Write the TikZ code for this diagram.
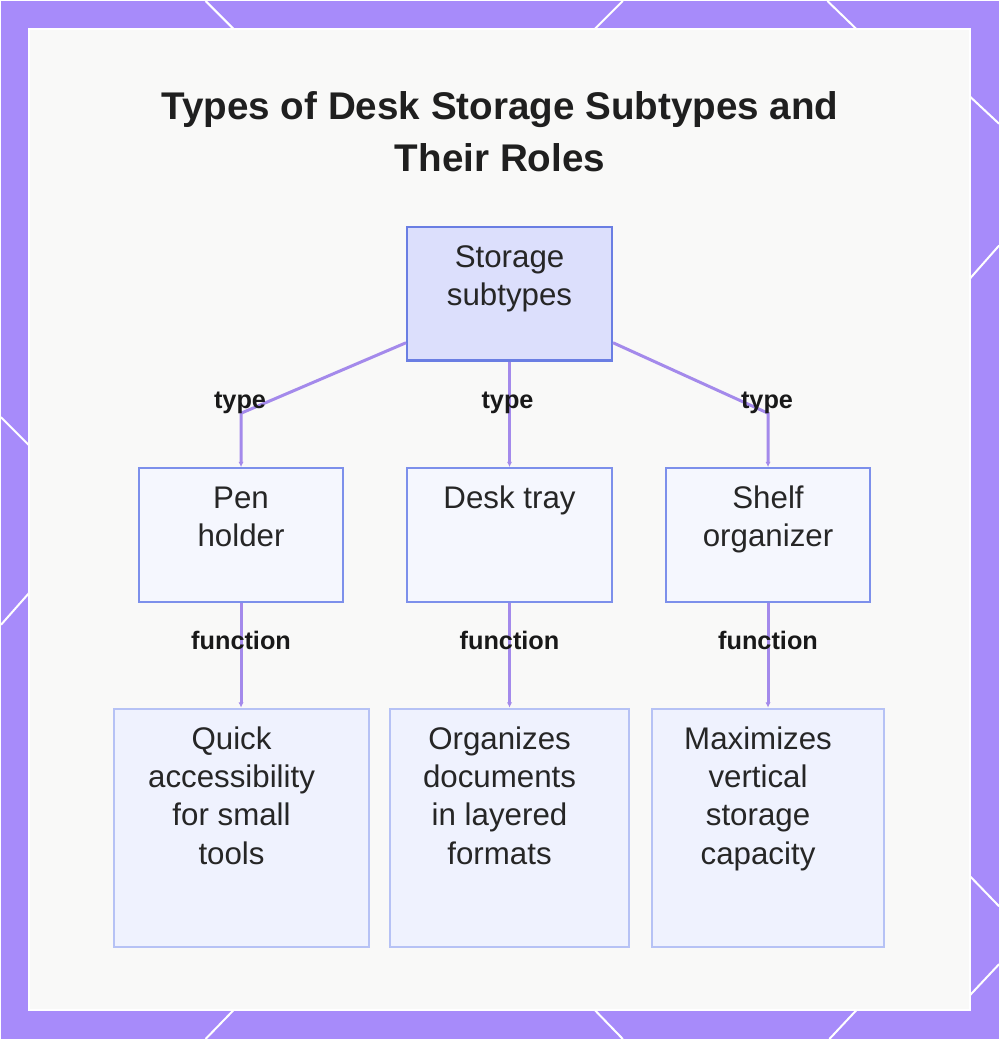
\documentclass[tikz,border=0pt]{standalone}
\usepackage{fontspec}
\setmainfont{Liberation Sans}
\usepackage{tikz}
\usetikzlibrary{
	arrows.meta,									% arrow tips
	calc,											% coordinate calculation
}

\definecolor{framepurple}{HTML}{A78BFA}
\definecolor{panelgray}{HTML}{F9F9F8}
\definecolor{linkpurple}{HTML}{A48AEB}
\definecolor{rootfill}{HTML}{DCDFFC}
\definecolor{rootline}{HTML}{6A7EE3}
\definecolor{midfill}{HTML}{F5F7FE}
\definecolor{midline}{HTML}{7D90EB}
\definecolor{leaffill}{HTML}{EFF2FE}
\definecolor{leafline}{HTML}{B6C2F5}
\definecolor{inkgray}{HTML}{262626}

\newdimen\px \px=0.75pt
% text block that starts at the top of a fixed box
\newcommand{\boxlines}[3]{\parbox[c][#1][t]{#2}{\centering\rule{0pt}{40.5\px}#3}}
\newcommand{\leaflines}[3]{\boxlines{#1}{\dimexpr#2-20\px\relax}{#3}\hspace*{20\px}}

\tikzset{
	cutline/.style={white, line width=2\px},
	titletext/.style={font=\fontsize{29}{39}\selectfont\bfseries, align=center, text=black!88},
	anybox/.style={anchor=north, inner sep=0pt, text=inkgray, font=\fontsize{23.5}{28.8}\selectfont},
	rootbox/.style={anybox, draw=rootline, fill=rootfill, line width=2.4\px},
	midbox/.style={anybox, draw=midline, fill=midfill, line width=2.2\px},
	leafbox/.style={anybox, draw=leafline, fill=leaffill, line width=2.2\px},
	link/.style={draw=linkpurple, line width=3\px, -{Latex[length=4pt,width=4pt]}},
	linklabel/.style={font=\fontsize{19}{22}\selectfont\bfseries, text=black!90, inner sep=1pt},
}

\begin{document}
\begin{tikzpicture}[x=0.75pt, y=-0.75pt]
	% frame and panel
	\fill[framepurple] (0,0) rectangle (1000,1040);
	\foreach \a/\b in {{205,0}/{235,30}, {623,0}/{593,30}, {828,0}/{859,30},
		{1000,123}/{970,95}, {1000,245}/{970,279}, {1000,907}/{970,876}, {1000,965}/{970,997},
		{0,417}/{30,447}, {0,625}/{30,591},
		{205,1040}/{235,1009}, {623,1040}/{593,1009}, {830,1040}/{859,1009}}
		\draw[cutline] (\a) -- (\b);
	\filldraw[fill=panelgray, draw=white, line width=2\px] (28,28) rectangle (971,1011);

	\node[titletext] (title) at (500,131) {Types of Desk Storage Subtypes and\\Their Roles};

	% boxes
	\node[rootbox] (root) at (509.5,225) {\boxlines{134\px}{205\px}{Storage\\subtypes}};
	\node[midbox] (pen) at (240.5,467) {\boxlines{134\px}{205\px}{Pen\\holder}};
	\node[midbox] (tray) at (509.5,467) {\boxlines{134\px}{205\px}{Desk tray}};
	\node[midbox] (shelf) at (768.5,467) {\boxlines{134\px}{205\px}{Shelf\\organizer}};
	\node[leafbox] (quick) at (241,708) {\leaflines{239\px}{256\px}{Quick\\accessibility\\for small\\tools}};
	\node[leafbox] (layers) at (509.5,708) {\leaflines{239\px}{239\px}{Organizes\\documents\\in layered\\formats}};
	\node[leafbox] (vertical) at (768.5,708) {\leaflines{239\px}{233\px}{Maximizes\\vertical\\storage\\capacity}};

	% type links
	\coordinate (typerow) at (0,413);
	\draw[link] ([yshift=19\px]root.south west) -- (pen.north |- typerow) -- (pen.north);
	\draw[link] (root.south) -- (tray.north);
	\draw[link] ([yshift=19\px]root.south east) -- (shelf.north |- typerow) -- (shelf.north);
	\node[linklabel] (type1) at ($(pen.north |- typerow)+(-1,-10)$) {type};
	\node[linklabel] (type2) at ($(tray.north |- typerow)+(-2,-10)$) {type};
	\node[linklabel] (type3) at ($(shelf.north |- typerow)+(-1,-10)$) {type};

	% function links
	\draw[link] (pen.south) -- node[linklabel, pos=0.36] (fn1) {function} (pen.south |- quick.north);
	\draw[link] (tray.south) -- node[linklabel, pos=0.36] (fn2) {function} (tray.south |- layers.north);
	\draw[link] (shelf.south) -- node[linklabel, pos=0.36] (fn3) {function} (shelf.south |- vertical.north);
\end{tikzpicture}
\end{document}
